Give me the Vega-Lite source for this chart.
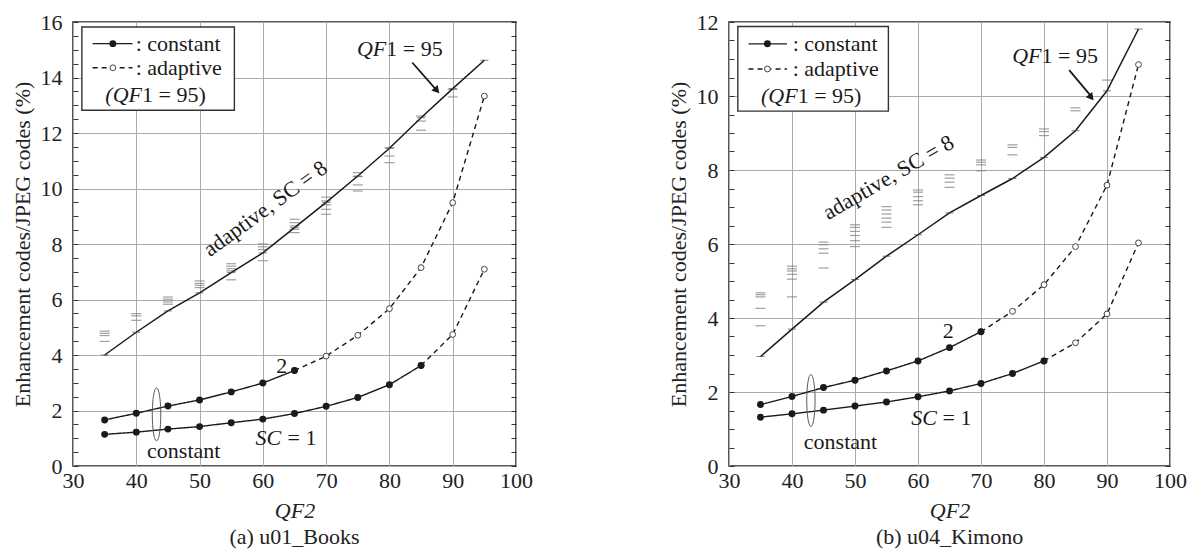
{
  "$schema": "https://vega.github.io/schema/vega-lite/v6.json",
  "background": "white",
  "padding": {"left": 10, "top": 10, "right": 0, "bottom": 0},
  "spacing": 132,
  "config": {
    "font": "Liberation Serif, Times New Roman, serif",
    "view": {"stroke": "#222", "strokeWidth": 1.5},
    "axis": {
      "labelFont": "Liberation Serif, Times New Roman, serif", "labelFontSize": 22, "labelColor": "#222",
      "titleFont": "Liberation Serif, Times New Roman, serif", "titleFontSize": 22, "titleFontWeight": "normal", "titleColor": "#222",
      "gridColor": "#aaa", "gridWidth": 1, "domain": false, "tickColor": "#333", "tickWidth": 1
    },
    "title": {"font": "Liberation Serif, Times New Roman, serif", "fontSize": 22, "fontWeight": "normal", "color": "#222", "orient": "bottom", "offset": 6},
    "text": {"font": "Liberation Serif, Times New Roman, serif"}
  },
  "datasets": {
    "curves": [
      {"panel":"a","sc":"2","method":"constant","qf":35,"v":1.66},{"panel":"a","sc":"2","method":"constant","qf":40,"v":1.90},{"panel":"a","sc":"2","method":"constant","qf":45,"v":2.16},{"panel":"a","sc":"2","method":"constant","qf":50,"v":2.38},{"panel":"a","sc":"2","method":"constant","qf":55,"v":2.67},{"panel":"a","sc":"2","method":"constant","qf":60,"v":2.99},{"panel":"a","sc":"2","method":"constant","qf":65,"v":3.44},
      {"panel":"a","sc":"2","method":"adaptive","qf":65,"v":3.44},{"panel":"a","sc":"2","method":"adaptive","qf":70,"v":3.96},{"panel":"a","sc":"2","method":"adaptive","qf":75,"v":4.71},{"panel":"a","sc":"2","method":"adaptive","qf":80,"v":5.67},{"panel":"a","sc":"2","method":"adaptive","qf":85,"v":7.15},{"panel":"a","sc":"2","method":"adaptive","qf":90,"v":9.49},{"panel":"a","sc":"2","method":"adaptive","qf":95,"v":13.33},
      {"panel":"a","sc":"1","method":"constant","qf":35,"v":1.14},{"panel":"a","sc":"1","method":"constant","qf":40,"v":1.22},{"panel":"a","sc":"1","method":"constant","qf":45,"v":1.33},{"panel":"a","sc":"1","method":"constant","qf":50,"v":1.42},{"panel":"a","sc":"1","method":"constant","qf":55,"v":1.56},{"panel":"a","sc":"1","method":"constant","qf":60,"v":1.69},{"panel":"a","sc":"1","method":"constant","qf":65,"v":1.89},{"panel":"a","sc":"1","method":"constant","qf":70,"v":2.15},{"panel":"a","sc":"1","method":"constant","qf":75,"v":2.47},{"panel":"a","sc":"1","method":"constant","qf":80,"v":2.93},{"panel":"a","sc":"1","method":"constant","qf":85,"v":3.62},
      {"panel":"a","sc":"1","method":"adaptive","qf":85,"v":3.62},{"panel":"a","sc":"1","method":"adaptive","qf":90,"v":4.74},{"panel":"a","sc":"1","method":"adaptive","qf":95,"v":7.09},
      {"panel":"b","sc":"2","method":"constant","qf":35,"v":1.66},{"panel":"b","sc":"2","method":"constant","qf":40,"v":1.88},{"panel":"b","sc":"2","method":"constant","qf":45,"v":2.12},{"panel":"b","sc":"2","method":"constant","qf":50,"v":2.32},{"panel":"b","sc":"2","method":"constant","qf":55,"v":2.57},{"panel":"b","sc":"2","method":"constant","qf":60,"v":2.84},{"panel":"b","sc":"2","method":"constant","qf":65,"v":3.20},{"panel":"b","sc":"2","method":"constant","qf":70,"v":3.63},
      {"panel":"b","sc":"2","method":"adaptive","qf":70,"v":3.63},{"panel":"b","sc":"2","method":"adaptive","qf":75,"v":4.18},{"panel":"b","sc":"2","method":"adaptive","qf":80,"v":4.90},{"panel":"b","sc":"2","method":"adaptive","qf":85,"v":5.93},{"panel":"b","sc":"2","method":"adaptive","qf":90,"v":7.59},{"panel":"b","sc":"2","method":"adaptive","qf":95,"v":10.85},
      {"panel":"b","sc":"1","method":"constant","qf":35,"v":1.32},{"panel":"b","sc":"1","method":"constant","qf":40,"v":1.41},{"panel":"b","sc":"1","method":"constant","qf":45,"v":1.51},{"panel":"b","sc":"1","method":"constant","qf":50,"v":1.62},{"panel":"b","sc":"1","method":"constant","qf":55,"v":1.73},{"panel":"b","sc":"1","method":"constant","qf":60,"v":1.87},{"panel":"b","sc":"1","method":"constant","qf":65,"v":2.03},{"panel":"b","sc":"1","method":"constant","qf":70,"v":2.23},{"panel":"b","sc":"1","method":"constant","qf":75,"v":2.50},{"panel":"b","sc":"1","method":"constant","qf":80,"v":2.84},
      {"panel":"b","sc":"1","method":"adaptive","qf":80,"v":2.84},{"panel":"b","sc":"1","method":"adaptive","qf":85,"v":3.33},{"panel":"b","sc":"1","method":"adaptive","qf":90,"v":4.11},{"panel":"b","sc":"1","method":"adaptive","qf":95,"v":6.03}
    ],
    "sc8": [
      {"panel":"a","qf":35,"v":4.0},{"panel":"a","qf":40,"v":4.82},{"panel":"a","qf":45,"v":5.59},{"panel":"a","qf":50,"v":6.24},{"panel":"a","qf":55,"v":6.97},{"panel":"a","qf":60,"v":7.68},{"panel":"a","qf":65,"v":8.59},{"panel":"a","qf":70,"v":9.5},{"panel":"a","qf":75,"v":10.45},{"panel":"a","qf":80,"v":11.45},{"panel":"a","qf":85,"v":12.55},{"panel":"a","qf":90,"v":13.6},{"panel":"a","qf":95,"v":14.62},
      {"panel":"b","qf":35,"v":2.96},{"panel":"b","qf":40,"v":3.70},{"panel":"b","qf":45,"v":4.43},{"panel":"b","qf":50,"v":5.04},{"panel":"b","qf":55,"v":5.67},{"panel":"b","qf":60,"v":6.25},{"panel":"b","qf":65,"v":6.84},{"panel":"b","qf":70,"v":7.31},{"panel":"b","qf":75,"v":7.77},{"panel":"b","qf":80,"v":8.34},{"panel":"b","qf":85,"v":9.06},{"panel":"b","qf":90,"v":10.14},{"panel":"b","qf":95,"v":11.81}
    ],
    "dashes": [
      {"panel":"a","qf":35,"v":4.86},{"panel":"a","qf":35,"v":4.78},{"panel":"a","qf":35,"v":4.70},{"panel":"a","qf":35,"v":4.49},
      {"panel":"a","qf":40,"v":5.49},{"panel":"a","qf":40,"v":5.41},{"panel":"a","qf":40,"v":5.25},
      {"panel":"a","qf":45,"v":6.09},{"panel":"a","qf":45,"v":6.01},{"panel":"a","qf":45,"v":5.91},{"panel":"a","qf":45,"v":5.83},
      {"panel":"a","qf":50,"v":6.67},{"panel":"a","qf":50,"v":6.58},{"panel":"a","qf":50,"v":6.51},{"panel":"a","qf":50,"v":6.43},
      {"panel":"a","qf":55,"v":7.29},{"panel":"a","qf":55,"v":7.20},{"panel":"a","qf":55,"v":7.11},{"panel":"a","qf":55,"v":7.03},{"panel":"a","qf":55,"v":6.71},
      {"panel":"a","qf":60,"v":8.0},{"panel":"a","qf":60,"v":7.9},{"panel":"a","qf":60,"v":7.8},{"panel":"a","qf":60,"v":7.4},
      {"panel":"a","qf":65,"v":8.89},{"panel":"a","qf":65,"v":8.77},{"panel":"a","qf":65,"v":8.65},{"panel":"a","qf":65,"v":8.53},{"panel":"a","qf":65,"v":8.41},
      {"panel":"a","qf":70,"v":9.69},{"panel":"a","qf":70,"v":9.55},{"panel":"a","qf":70,"v":9.41},{"panel":"a","qf":70,"v":9.25},{"panel":"a","qf":70,"v":9.07},
      {"panel":"a","qf":75,"v":10.57},{"panel":"a","qf":75,"v":10.43},{"panel":"a","qf":75,"v":10.13},{"panel":"a","qf":75,"v":9.91},
      {"panel":"a","qf":80,"v":11.47},{"panel":"a","qf":80,"v":11.17},{"panel":"a","qf":80,"v":10.93},
      {"panel":"a","qf":85,"v":12.61},{"panel":"a","qf":85,"v":12.43},{"panel":"a","qf":85,"v":12.10},
      {"panel":"a","qf":90,"v":13.57},{"panel":"a","qf":90,"v":13.30},
      {"panel":"b","qf":35,"v":4.68},{"panel":"b","qf":35,"v":4.63},{"panel":"b","qf":35,"v":4.57},{"panel":"b","qf":35,"v":4.26},{"panel":"b","qf":35,"v":3.79},
      {"panel":"b","qf":40,"v":5.40},{"panel":"b","qf":40,"v":5.33},{"panel":"b","qf":40,"v":5.27},{"panel":"b","qf":40,"v":5.18},{"panel":"b","qf":40,"v":5.05},{"panel":"b","qf":40,"v":4.57},
      {"panel":"b","qf":45,"v":6.05},{"panel":"b","qf":45,"v":5.98},{"panel":"b","qf":45,"v":5.87},{"panel":"b","qf":45,"v":5.75},{"panel":"b","qf":45,"v":5.35},
      {"panel":"b","qf":50,"v":6.52},{"panel":"b","qf":50,"v":6.45},{"panel":"b","qf":50,"v":6.34},{"panel":"b","qf":50,"v":6.23},{"panel":"b","qf":50,"v":6.09},{"panel":"b","qf":50,"v":5.93},
      {"panel":"b","qf":55,"v":7.01},{"panel":"b","qf":55,"v":6.92},{"panel":"b","qf":55,"v":6.81},{"panel":"b","qf":55,"v":6.70},{"panel":"b","qf":55,"v":6.59},{"panel":"b","qf":55,"v":6.45},
      {"panel":"b","qf":60,"v":7.46},{"panel":"b","qf":60,"v":7.40},{"panel":"b","qf":60,"v":7.28},{"panel":"b","qf":60,"v":7.17},{"panel":"b","qf":60,"v":7.06},
      {"panel":"b","qf":65,"v":7.87},{"panel":"b","qf":65,"v":7.78},{"panel":"b","qf":65,"v":7.67},{"panel":"b","qf":65,"v":7.53},
      {"panel":"b","qf":70,"v":8.27},{"panel":"b","qf":70,"v":8.21},{"panel":"b","qf":70,"v":8.14},{"panel":"b","qf":70,"v":7.98},
      {"panel":"b","qf":75,"v":8.68},{"panel":"b","qf":75,"v":8.61},{"panel":"b","qf":75,"v":8.41},
      {"panel":"b","qf":80,"v":9.11},{"panel":"b","qf":80,"v":9.04},{"panel":"b","qf":80,"v":8.93},
      {"panel":"b","qf":85,"v":9.68},{"panel":"b","qf":85,"v":9.60},
      {"panel":"b","qf":90,"v":10.43}
    ]
  },
  "hconcat": [
    {
      "width": 443, "height": 444,
      "title": {"text": "(a) u01_Books"},
      "resolve": {"axis": {"y": "independent"}},
      "layer": [
        {
          "data": {"name": "curves"},
          "transform": [{"filter": "datum.panel === 'a'"}],
          "mark": {"type": "line", "strokeWidth": 1.4, "color": "#1a1a1a"},
          "encoding": {
            "x": {"field": "qf", "type": "quantitative", "scale": {"domain": [30, 100], "nice": false, "zero": false},
                  "axis": {"title": "QF2", "titleFontStyle": "italic", "values": [30,40,50,60,70,80,90,100], "format": "d", "ticks": false, "grid": true, "labelPadding": 4, "titlePadding": 9, "labelFlush": false}},
            "y": {"field": "v", "type": "quantitative", "scale": {"domain": [0, 16], "nice": false},
                  "axis": {"title": "Enhancement codes/JPEG codes (%)", "values": [0,0.5,1,1.5,2,2.5,3,3.5,4,4.5,5,5.5,6,6.5,7,7.5,8,8.5,9,9.5,10,10.5,11,11.5,12,12.5,13,13.5,14,14.5,15,15.5,16],
                           "labelExpr": "datum.value % 2 === 0 ? format(datum.value, 'd') : ''", "labelOverlap": false, "labelFlush": false, "labelBound": false,
                           "grid": true, "gridOpacity": {"condition": {"test": "datum.value % 2 === 0", "value": 1}, "value": 0},
                           "tickSize": -5, "labelPadding": 16, "titlePadding": 6}},
            "detail": {"field": "sc"},
            "strokeDash": {"field": "method", "type": "nominal", "scale": {"domain": ["constant", "adaptive"], "range": [[1, 0], [5, 4]]}, "legend": null}
          }
        },
        {
          "data": {"name": "dashes"},
          "transform": [{"filter": "datum.panel === 'a'"}],
          "mark": {"type": "tick", "orient": "horizontal", "size": 10, "thickness": 1.2, "color": "#777"},
          "encoding": {
            "x": {"field": "qf", "type": "quantitative"},
            "y": {"field": "v", "type": "quantitative",
                  "axis": {"orient": "right", "title": null, "values": [0,0.5,1,1.5,2,2.5,3,3.5,4,4.5,5,5.5,6,6.5,7,7.5,8,8.5,9,9.5,10,10.5,11,11.5,12,12.5,13,13.5,14,14.5,15,15.5,16],
                           "labels": false, "grid": false, "tickSize": -5}}
          }
        },
        {
          "data": {"name": "sc8"},
          "transform": [{"filter": "datum.panel === 'a'"}],
          "mark": {"type": "line", "strokeWidth": 1.5, "color": "#1a1a1a"},
          "encoding": {
            "x": {"field": "qf", "type": "quantitative"},
            "y": {"field": "v", "type": "quantitative", "axis": null}
          }
        },
        {
          "data": {"name": "sc8"},
          "transform": [{"filter": "datum.panel === 'a'"}],
          "mark": {"type": "tick", "orient": "horizontal", "size": 8, "thickness": 1, "color": "#444"},
          "encoding": {
            "x": {"field": "qf", "type": "quantitative"},
            "y": {"field": "v", "type": "quantitative", "axis": null}
          }
        },
        {
          "data": {"name": "curves"},
          "transform": [{"filter": "datum.panel === 'a' && datum.method === 'adaptive'"}],
          "mark": {"type": "point", "shape": "circle", "size": 34, "filled": true, "fill": "white", "stroke": "#444", "strokeWidth": 1, "opacity": 1},
          "encoding": {
            "x": {"field": "qf", "type": "quantitative"},
            "y": {"field": "v", "type": "quantitative", "axis": null}
          }
        },
        {
          "data": {"name": "curves"},
          "transform": [{"filter": "datum.panel === 'a' && datum.method === 'constant'"}],
          "mark": {"type": "point", "shape": "circle", "size": 48, "filled": true, "color": "#1a1a1a", "opacity": 1},
          "encoding": {
            "x": {"field": "qf", "type": "quantitative"},
            "y": {"field": "v", "type": "quantitative", "axis": null}
          }
        },
        {
          "data": {"values": [{"qf": 31.4, "qf2": 55.5, "v": 12.82, "v2": 15.82}]},
          "mark": {"type": "rect", "fill": "white", "stroke": "#333", "strokeWidth": 1.4},
          "encoding": {
            "x": {"field": "qf", "type": "quantitative"}, "x2": {"field": "qf2"},
            "y": {"field": "v", "type": "quantitative", "axis": null}, "y2": {"field": "v2"}
          }
        },
        {
          "data": {"values": [{"qf": 33.1, "qf2": 39.4, "v": 15.22, "v2": 15.22, "method": "constant"}, {"qf": 33.1, "qf2": 39.4, "v": 14.35, "v2": 14.35, "method": "adaptive"}]},
          "mark": {"type": "rule", "strokeWidth": 1.4, "color": "#1a1a1a"},
          "encoding": {
            "x": {"field": "qf", "type": "quantitative"}, "x2": {"field": "qf2"},
            "y": {"field": "v", "type": "quantitative", "axis": null}, "y2": {"field": "v2"},
            "strokeDash": {"field": "method", "type": "nominal", "scale": {"domain": ["constant", "adaptive"], "range": [[1, 0], [6, 28]]}, "legend": null}
          }
        },
        {
          "data": {"values": [{"qf": 36.3, "v": 15.22}]},
          "mark": {"type": "point", "shape": "circle", "size": 48, "filled": true, "color": "#1a1a1a", "opacity": 1},
          "encoding": {"x": {"field": "qf", "type": "quantitative"}, "y": {"field": "v", "type": "quantitative", "axis": null}}
        },
        {
          "data": {"values": [{"qf": 36.3, "v": 14.35}]},
          "mark": {"type": "point", "shape": "circle", "size": 34, "filled": true, "fill": "white", "stroke": "#444", "strokeWidth": 1, "opacity": 1},
          "encoding": {"x": {"field": "qf", "type": "quantitative"}, "y": {"field": "v", "type": "quantitative", "axis": null}}
        },
        {
          "data": {"values": [{"qf": 43.2, "v": 1.86}]},
          "mark": {"type": "point", "shape": "M0,-1A0.16,1,0,1,1,0,1A0.16,1,0,1,1,0,-1Z", "size": 2809, "filled": false, "stroke": "#555", "strokeWidth": 1, "opacity": 1},
          "encoding": {"x": {"field": "qf", "type": "quantitative"}, "y": {"field": "v", "type": "quantitative", "axis": null}}
        },
        {
          "data": {"values": [{"qf": 83.6, "v": 14.54, "qf2": 87.3, "v2": 13.58}]},
          "mark": {"type": "rule", "strokeWidth": 1.8, "color": "#1a1a1a"},
          "encoding": {
            "x": {"field": "qf", "type": "quantitative"}, "x2": {"field": "qf2"},
            "y": {"field": "v", "type": "quantitative", "axis": null}, "y2": {"field": "v2"}
          }
        },
        {
          "data": {"values": [{"qf": 87.5, "v": 13.53}]},
          "mark": {"type": "point", "shape": "triangle-up", "size": 70, "angle": 139, "filled": true, "color": "#1a1a1a", "opacity": 1},
          "encoding": {"x": {"field": "qf", "type": "quantitative"}, "y": {"field": "v", "type": "quantitative", "axis": null}}
        },
        {
          "data": {"values": [
            {"qf": 39.9, "v": 15.22, "t": ": constant"},
            {"qf": 39.9, "v": 14.35, "t": ": adaptive"},
            {"qf": 40.9, "v": 13.37, "t": "1 = 95)"},
            {"qf": 79.5, "v": 15.03, "t": "1 = 95"},
            {"qf": 63.9, "v": 1.02, "t": "= 1"}
          ]},
          "mark": {"type": "text", "align": "left", "baseline": "middle", "fontSize": 22, "color": "#1a1a1a"},
          "encoding": {"x": {"field": "qf", "type": "quantitative"}, "y": {"field": "v", "type": "quantitative", "axis": null}, "text": {"field": "t"}}
        },
        {
          "data": {"values": [
            {"qf": 40.9, "v": 13.37, "t": "(QF"},
            {"qf": 79.5, "v": 15.03, "t": "QF"},
            {"qf": 62.9, "v": 1.02, "t": "SC"}
          ]},
          "mark": {"type": "text", "align": "right", "baseline": "middle", "fontStyle": "italic", "fontSize": 22, "color": "#1a1a1a"},
          "encoding": {"x": {"field": "qf", "type": "quantitative"}, "y": {"field": "v", "type": "quantitative", "axis": null}, "text": {"field": "t"}}
        },
        {
          "data": {"values": [
            {"qf": 63.0, "v": 3.6, "t": "2"},
            {"qf": 47.5, "v": 0.54, "t": "constant"}
          ]},
          "mark": {"type": "text", "align": "center", "baseline": "middle", "fontSize": 22, "color": "#1a1a1a"},
          "encoding": {"x": {"field": "qf", "type": "quantitative"}, "y": {"field": "v", "type": "quantitative", "axis": null}, "text": {"field": "t"}}
        },
        {
          "data": {"values": [{"qf": 60.4, "v": 9.28, "t": "adaptive, SC = 8"}]},
          "mark": {"type": "text", "align": "center", "baseline": "middle", "angle": -36, "fontSize": 22, "color": "#1a1a1a"},
          "encoding": {"x": {"field": "qf", "type": "quantitative"}, "y": {"field": "v", "type": "quantitative", "axis": null}, "text": {"field": "t"}}
        }
      ]
    },
    {
      "width": 441, "height": 444,
      "title": {"text": "(b) u04_Kimono"},
      "resolve": {"axis": {"y": "independent"}},
      "layer": [
        {
          "data": {"name": "curves"},
          "transform": [{"filter": "datum.panel === 'b'"}],
          "mark": {"type": "line", "strokeWidth": 1.4, "color": "#1a1a1a"},
          "encoding": {
            "x": {"field": "qf", "type": "quantitative", "scale": {"domain": [30, 100], "nice": false, "zero": false},
                  "axis": {"title": "QF2", "titleFontStyle": "italic", "values": [30,40,50,60,70,80,90,100], "format": "d", "ticks": false, "grid": true, "labelPadding": 4, "titlePadding": 9, "labelFlush": false}},
            "y": {"field": "v", "type": "quantitative", "scale": {"domain": [0, 12], "nice": false},
                  "axis": {"title": "Enhancement codes/JPEG codes (%)", "values": [0,0.5,1,1.5,2,2.5,3,3.5,4,4.5,5,5.5,6,6.5,7,7.5,8,8.5,9,9.5,10,10.5,11,11.5,12],
                           "labelExpr": "datum.value % 2 === 0 ? format(datum.value, 'd') : ''", "labelOverlap": false, "labelFlush": false, "labelBound": false,
                           "grid": true, "gridOpacity": {"condition": {"test": "datum.value % 2 === 0", "value": 1}, "value": 0},
                           "tickSize": -5, "labelPadding": 16, "titlePadding": 6}},
            "detail": {"field": "sc"},
            "strokeDash": {"field": "method", "type": "nominal", "scale": {"domain": ["constant", "adaptive"], "range": [[1, 0], [5, 4]]}, "legend": null}
          }
        },
        {
          "data": {"name": "dashes"},
          "transform": [{"filter": "datum.panel === 'b'"}],
          "mark": {"type": "tick", "orient": "horizontal", "size": 10, "thickness": 1.2, "color": "#777"},
          "encoding": {
            "x": {"field": "qf", "type": "quantitative"},
            "y": {"field": "v", "type": "quantitative",
                  "axis": {"orient": "right", "title": null, "values": [0,0.5,1,1.5,2,2.5,3,3.5,4,4.5,5,5.5,6,6.5,7,7.5,8,8.5,9,9.5,10,10.5,11,11.5,12],
                           "labels": false, "grid": false, "tickSize": -5}}
          }
        },
        {
          "data": {"name": "sc8"},
          "transform": [{"filter": "datum.panel === 'b'"}],
          "mark": {"type": "line", "strokeWidth": 1.5, "color": "#1a1a1a"},
          "encoding": {
            "x": {"field": "qf", "type": "quantitative"},
            "y": {"field": "v", "type": "quantitative", "axis": null}
          }
        },
        {
          "data": {"name": "sc8"},
          "transform": [{"filter": "datum.panel === 'b'"}],
          "mark": {"type": "tick", "orient": "horizontal", "size": 8, "thickness": 1, "color": "#444"},
          "encoding": {
            "x": {"field": "qf", "type": "quantitative"},
            "y": {"field": "v", "type": "quantitative", "axis": null}
          }
        },
        {
          "data": {"name": "curves"},
          "transform": [{"filter": "datum.panel === 'b' && datum.method === 'adaptive'"}],
          "mark": {"type": "point", "shape": "circle", "size": 34, "filled": true, "fill": "white", "stroke": "#444", "strokeWidth": 1, "opacity": 1},
          "encoding": {
            "x": {"field": "qf", "type": "quantitative"},
            "y": {"field": "v", "type": "quantitative", "axis": null}
          }
        },
        {
          "data": {"name": "curves"},
          "transform": [{"filter": "datum.panel === 'b' && datum.method === 'constant'"}],
          "mark": {"type": "point", "shape": "circle", "size": 48, "filled": true, "color": "#1a1a1a", "opacity": 1},
          "encoding": {
            "x": {"field": "qf", "type": "quantitative"},
            "y": {"field": "v", "type": "quantitative", "axis": null}
          }
        },
        {
          "data": {"values": [{"qf": 31.4, "qf2": 55.3, "v": 9.59, "v2": 11.88}]},
          "mark": {"type": "rect", "fill": "white", "stroke": "#333", "strokeWidth": 1.4},
          "encoding": {
            "x": {"field": "qf", "type": "quantitative"}, "x2": {"field": "qf2"},
            "y": {"field": "v", "type": "quantitative", "axis": null}, "y2": {"field": "v2"}
          }
        },
        {
          "data": {"values": [{"qf": 33.1, "qf2": 39.2, "v": 11.41, "v2": 11.41, "method": "constant"}, {"qf": 33.1, "qf2": 39.2, "v": 10.73, "v2": 10.73, "method": "adaptive"}]},
          "mark": {"type": "rule", "strokeWidth": 1.4, "color": "#1a1a1a"},
          "encoding": {
            "x": {"field": "qf", "type": "quantitative"}, "x2": {"field": "qf2"},
            "y": {"field": "v", "type": "quantitative", "axis": null}, "y2": {"field": "v2"},
            "strokeDash": {"field": "method", "type": "nominal", "scale": {"domain": ["constant", "adaptive"], "range": [[1, 0], [6, 26]]}, "legend": null}
          }
        },
        {
          "data": {"values": [{"qf": 36.1, "v": 11.41}]},
          "mark": {"type": "point", "shape": "circle", "size": 48, "filled": true, "color": "#1a1a1a", "opacity": 1},
          "encoding": {"x": {"field": "qf", "type": "quantitative"}, "y": {"field": "v", "type": "quantitative", "axis": null}}
        },
        {
          "data": {"values": [{"qf": 36.1, "v": 10.73}]},
          "mark": {"type": "point", "shape": "circle", "size": 34, "filled": true, "fill": "white", "stroke": "#444", "strokeWidth": 1, "opacity": 1},
          "encoding": {"x": {"field": "qf", "type": "quantitative"}, "y": {"field": "v", "type": "quantitative", "axis": null}}
        },
        {
          "data": {"values": [{"qf": 43.0, "v": 1.77}]},
          "mark": {"type": "point", "shape": "M0,-1A0.16,1,0,1,1,0,1A0.16,1,0,1,1,0,-1Z", "size": 2704, "filled": false, "stroke": "#555", "strokeWidth": 1, "opacity": 1},
          "encoding": {"x": {"field": "qf", "type": "quantitative"}, "y": {"field": "v", "type": "quantitative", "axis": null}}
        },
        {
          "data": {"values": [{"qf": 84.0, "v": 10.70, "qf2": 87.4, "v2": 10.01}]},
          "mark": {"type": "rule", "strokeWidth": 1.8, "color": "#1a1a1a"},
          "encoding": {
            "x": {"field": "qf", "type": "quantitative"}, "x2": {"field": "qf2"},
            "y": {"field": "v", "type": "quantitative", "axis": null}, "y2": {"field": "v2"}
          }
        },
        {
          "data": {"values": [{"qf": 87.5, "v": 9.96}]},
          "mark": {"type": "point", "shape": "triangle-up", "size": 70, "angle": 141, "filled": true, "color": "#1a1a1a", "opacity": 1},
          "encoding": {"x": {"field": "qf", "type": "quantitative"}, "y": {"field": "v", "type": "quantitative", "axis": null}}
        },
        {
          "data": {"values": [
            {"qf": 40.1, "v": 11.41, "t": ": constant"},
            {"qf": 40.1, "v": 10.73, "t": ": adaptive"},
            {"qf": 40.9, "v": 10.01, "t": "1 = 95)"},
            {"qf": 79.6, "v": 11.09, "t": "1 = 95"},
            {"qf": 63.9, "v": 1.29, "t": "= 1"}
          ]},
          "mark": {"type": "text", "align": "left", "baseline": "middle", "fontSize": 22, "color": "#1a1a1a"},
          "encoding": {"x": {"field": "qf", "type": "quantitative"}, "y": {"field": "v", "type": "quantitative", "axis": null}, "text": {"field": "t"}}
        },
        {
          "data": {"values": [
            {"qf": 40.9, "v": 10.01, "t": "(QF"},
            {"qf": 79.6, "v": 11.09, "t": "QF"},
            {"qf": 63.0, "v": 1.29, "t": "SC"}
          ]},
          "mark": {"type": "text", "align": "right", "baseline": "middle", "fontStyle": "italic", "fontSize": 22, "color": "#1a1a1a"},
          "encoding": {"x": {"field": "qf", "type": "quantitative"}, "y": {"field": "v", "type": "quantitative", "axis": null}, "text": {"field": "t"}}
        },
        {
          "data": {"values": [
            {"qf": 64.8, "v": 3.66, "t": "2"},
            {"qf": 47.7, "v": 0.64, "t": "constant"}
          ]},
          "mark": {"type": "text", "align": "center", "baseline": "middle", "fontSize": 22, "color": "#1a1a1a"},
          "encoding": {"x": {"field": "qf", "type": "quantitative"}, "y": {"field": "v", "type": "quantitative", "axis": null}, "text": {"field": "t"}}
        },
        {
          "data": {"values": [{"qf": 55.3, "v": 7.8, "t": "adaptive, SC = 8"}]},
          "mark": {"type": "text", "align": "center", "baseline": "middle", "angle": -30, "fontSize": 22, "color": "#1a1a1a"},
          "encoding": {"x": {"field": "qf", "type": "quantitative"}, "y": {"field": "v", "type": "quantitative", "axis": null}, "text": {"field": "t"}}
        }
      ]
    }
  ]
}
